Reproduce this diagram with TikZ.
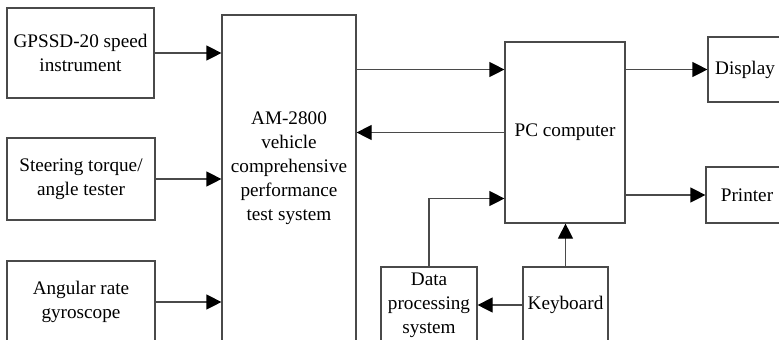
\documentclass[tikz,border=0pt]{standalone}
\usepackage{fontspec}
\setmainfont{Liberation Serif}
\usepackage{tikz}
\usetikzlibrary{arrows.meta,positioning,calc}
\definecolor{edgegrey}{HTML}{4A4A4A}

\begin{document}
\begin{tikzpicture}[x=0.5pt,y=-0.5pt,
      blk/.style={rectangle,draw=edgegrey,line width=0.6pt,inner sep=0pt,align=center,font=\fontsize{9.6}{12}\selectfont},
      arr/.style={draw=edgegrey,line width=0.6pt,-{Triangle[length=7.5pt,width=7.5pt,color=black,fill=black]}}]
    \useasboundingbox (0,0) rectangle (779,339);
    \clip (0,0) rectangle (779,339);
    % inputs on the left
    \node[blk,minimum width=73.5pt,minimum height=45pt] (gps)   at (80.5,53)  {GPSSD-20 speed\\instrument};
    \node[blk,minimum width=74pt,minimum height=41pt]   (steer) at (81,179)   {Steering torque/\\angle tester};
    \node[blk,minimum width=74pt,minimum height=41pt]   (gyro)  at (81,302)   {Angular rate\\gyroscope};
    % test system
    \node[blk,minimum width=67pt,minimum height=172.5pt] (am) at (289,187.5) {};
    \node[align=center,inner sep=0pt,font=\fontsize{9.6}{12}\selectfont] (amtxt) at (289,168)
      {AM-2800\\vehicle\\comprehensive\\performance\\test system};
    % computer and peripherals
    \node[blk,minimum width=60pt,minimum height=90.5pt] (pc)    at (565,132.5) {PC computer};
    \node[blk,minimum width=37pt,minimum height=32.5pt] (disp)  at (745,69.5)  {Display};
    \node[blk,minimum width=41pt,minimum height=28pt]   (print) at (747,195)   {Printer};
    \node[blk,minimum width=48pt,minimum height=38pt]   (data)  at (429,305)   {Data\\processing\\system};
    \node[blk,minimum width=42.5pt,minimum height=38pt] (key)   at (565.5,305) {Keyboard};
    % connectors
    \draw[arr] (gps.east) -- (gps.east -| am.west);
    \draw[arr] (steer.east) -- (steer.east -| am.west);
    \draw[arr] (gyro.east) -- (gyro.east -| am.west);
    \draw[arr] (am.east |- disp.west) -- (pc.west |- disp.west);
    \draw[arr] (pc.west) -- (pc.west -| am.east);
    \draw[arr] (pc.east |- disp.west) -- (disp.west);
    \draw[arr] (pc.east |- print.west) -- (print.west);
    \draw[arr] (key.north) -- (key.north |- pc.south);
    \draw[arr] (key.west) -- (data.east);
    \draw[arr] (data.north) |- ([yshift=-33pt]pc.west);
  \end{tikzpicture}
\end{document}
